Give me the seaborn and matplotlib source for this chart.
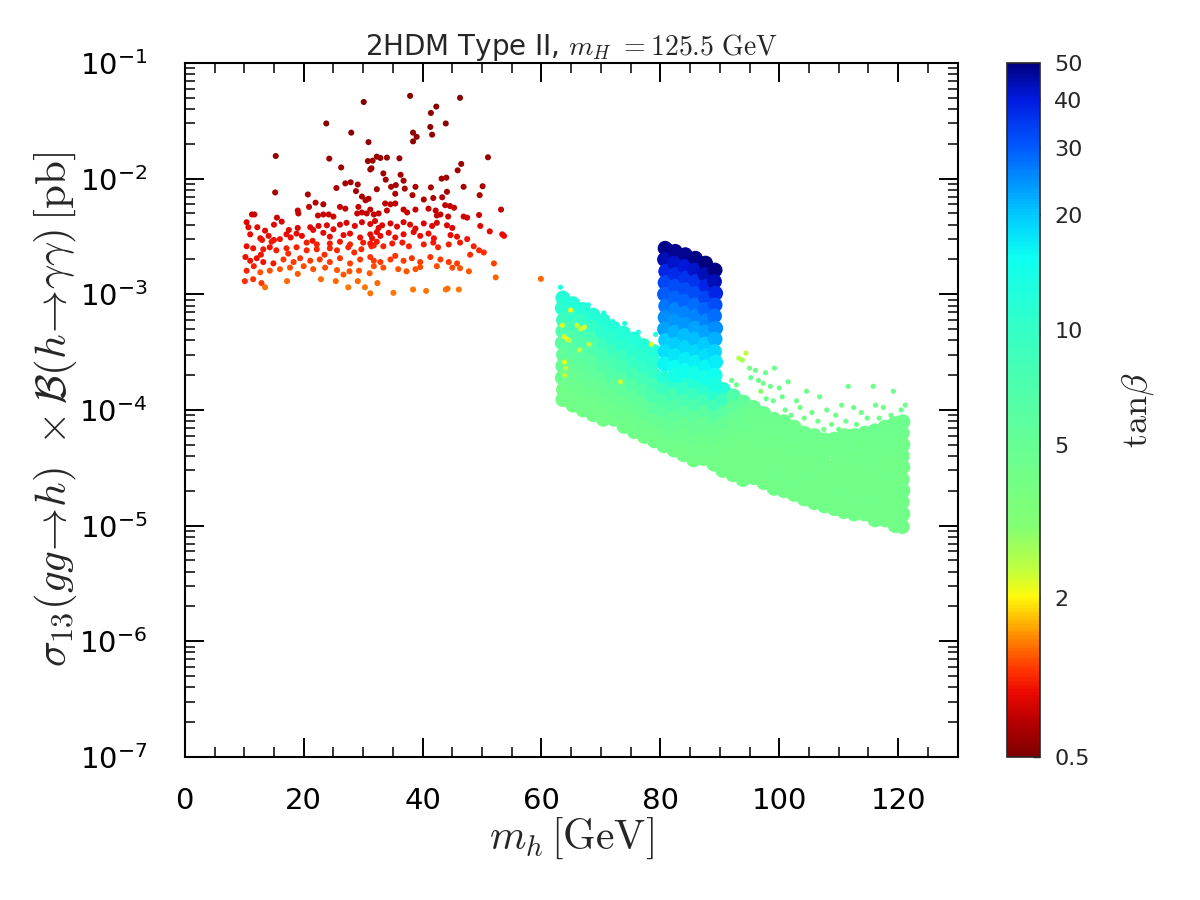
import numpy as np
import pandas as pd
import matplotlib
matplotlib.use('Agg')
import matplotlib.pyplot as plt
import matplotlib.colors as mcolors
import matplotlib.ticker as mticker
import seaborn as sns

# values: m_h [GeV], sigma x BR [pb], tan(beta)

# low-mass red cluster, grouped in rough horizontal rows (top to bottom)
red_mh = [
    30.1, 23.8, 28.0, 30.9, 37.9, 46.3, 42.3, 41.4, 43.9, 41.3,
    41.6, 38.4, 39.0, 38.4,
    15.3, 24.3, 31.6, 32.3, 31.4, 26.3, 51.0, 46.5, 45.9, 32.9,
    34.0, 36.1, 30.8, 31.2, 33.4, 36.3, 43.2, 44.0,
    25.5, 27.0, 27.9, 29.1, 28.8, 32.3, 15.2, 20.7, 29.8, 30.4,
    30.9, 22.0, 33.8, 36.8, 46.9, 50.1, 34.7, 35.5, 37.0, 38.8,
    44.1, 41.4, 35.4, 38.3, 41.8, 43.3, 49.6, 40.2, 23.3,
    20.9, 26.1, 27.0, 29.2, 19.0, 19.1, 22.4, 23.3, 24.2, 25.0,
    29.0, 29.8, 30.6, 11.3, 11.7, 15.5, 33.7, 34.6, 35.4, 43.8,
    44.6, 45.3, 31.2, 31.8, 32.6, 34.0, 36.8, 37.4, 38.8, 41.0,
    42.2, 53.2, 49.5, 46.9, 47.5, 43.0, 44.3, 42.4,
    16.3, 10.4, 15.0, 12.2, 10.7, 21.1, 21.6, 22.5, 23.9, 26.1,
    27.2, 28.6, 29.8, 31.2, 32.0, 32.6, 33.2, 34.6, 35.7, 36.8,
    37.9, 38.8, 40.2, 41.6, 42.4, 44.1, 45.0, 49.7, 17.5, 19.0,
    13.5, 25.0,
    17.1, 17.8, 18.8, 19.7, 11.0, 12.7, 14.1, 23.3, 24.4, 26.7,
    27.8, 29.5, 31.2, 32.3, 31.5, 32.9, 34.3, 35.4, 36.8, 38.5,
    39.6, 41.0, 41.9, 44.7, 45.8, 53.4, 53.7, 51.3, 15.0, 21.5,
    47.5,
    13.0, 14.6, 16.0, 20.5, 22.2, 24.4, 26.1, 27.8, 30.0, 31.8,
    10.4, 11.5, 13.2, 14.3, 15.4, 17.1, 18.8, 20.5, 22.2, 24.4,
    25.6, 27.5, 29.7, 31.4, 31.2, 32.3, 33.4, 34.9, 36.6, 37.7,
    40.2, 41.8, 42.6, 44.4, 46.3, 48.6, 49.5, 50.3,
    10.2, 11.0, 12.1, 13.2, 14.9, 16.6, 18.3, 19.4, 21.1, 22.7,
    24.4, 26.1, 27.8, 29.5, 31.8, 31.2, 32.9, 34.6, 35.4, 36.8,
    38.2, 39.6, 41.3, 43.0, 44.4, 45.8, 48.0, 52.0, 12.8, 17.4,
    23.5, 28.5,
    10.4, 12.7, 14.3, 16.0, 17.7, 20.0, 21.6, 23.6, 25.6, 27.7,
    29.3, 31.1, 31.8, 33.4, 35.9, 37.3, 38.8, 39.6, 42.4, 45.0,
    46.3, 47.8, 11.6, 19.0, 26.7,
    10.1, 11.5, 12.9, 17.2, 22.9, 25.4, 27.5, 29.1, 30.3, 32.4,
    35.1, 38.4, 40.6, 43.9, 44.2, 46.1, 52.3, 59.9, 13.5, 31.2,
]
red_sigma = [
    4.6e-2, 3.0e-2, 2.5e-2, 2.07e-2, 5.2e-2, 5.0e-2, 4.2e-2, 3.7e-2, 3.0e-2, 2.8e-2,
    2.4e-2, 2.5e-2, 2.3e-2, 2.1e-2,
    1.57e-2, 1.49e-2, 1.43e-2, 1.55e-2, 1.23e-2, 1.25e-2, 1.53e-2, 1.34e-2, 1.18e-2, 1.51e-2,
    1.52e-2, 1.5e-2, 1.42e-2, 1.2e-2, 1.11e-2, 1.08e-2, 1.0e-2, 1.02e-2,
    8.3e-3, 9.1e-3, 9.3e-3, 8.9e-3, 7.8e-3, 8.1e-3, 7.6e-3, 7.3e-3, 7.0e-3, 6.5e-3,
    6.7e-3, 6.2e-3, 9.8e-3, 9.6e-3, 8.5e-3, 8.6e-3, 8.5e-3, 8.8e-3, 8.2e-3, 8.5e-3,
    7.7e-3, 8.4e-3, 7.4e-3, 7.2e-3, 6.8e-3, 6.9e-3, 7.2e-3, 6.6e-3, 6.0e-3,
    5.7e-3, 5.7e-3, 5.5e-3, 5.7e-3, 5.3e-3, 5.0e-3, 4.8e-3, 4.9e-3, 4.9e-3, 4.7e-3,
    5.0e-3, 5.1e-3, 5.0e-3, 4.9e-3, 4.9e-3, 4.6e-3, 6.1e-3, 6.0e-3, 6.1e-3, 5.9e-3,
    5.8e-3, 5.6e-3, 5.4e-3, 4.9e-3, 5.0e-3, 5.3e-3, 5.4e-3, 5.1e-3, 5.4e-3, 5.5e-3,
    5.3e-3, 5.4e-3, 4.85e-3, 4.7e-3, 4.6e-3, 4.9e-3, 4.7e-3, 4.8e-3,
    4.25e-3, 4.2e-3, 4.0e-3, 3.8e-3, 3.8e-3, 3.8e-3, 3.6e-3, 3.9e-3, 3.95e-3, 4.0e-3,
    4.15e-3, 3.9e-3, 4.2e-3, 4.05e-3, 4.3e-3, 3.75e-3, 3.95e-3, 4.1e-3, 3.85e-3, 4.2e-3,
    4.0e-3, 3.7e-3, 4.1e-3, 3.9e-3, 4.15e-3, 3.95e-3, 3.75e-3, 3.9e-3, 3.6e-3, 3.75e-3,
    3.55e-3, 3.65e-3,
    3.3e-3, 3.1e-3, 3.35e-3, 3.2e-3, 3.3e-3, 3.05e-3, 3.2e-3, 3.4e-3, 3.15e-3, 3.25e-3,
    3.35e-3, 3.1e-3, 3.3e-3, 3.45e-3, 3.05e-3, 3.2e-3, 3.4e-3, 3.1e-3, 3.3e-3, 3.45e-3,
    3.2e-3, 3.35e-3, 3.05e-3, 3.25e-3, 3.15e-3, 3.3e-3, 3.2e-3, 3.5e-3, 2.95e-3, 2.9e-3,
    3.0e-3,
    2.95e-3, 2.85e-3, 3.0e-3, 2.8e-3, 2.7e-3, 2.75e-3, 2.85e-3, 2.7e-3, 2.8e-3, 2.65e-3,
    2.6e-3, 2.5e-3, 2.45e-3, 2.55e-3, 2.4e-3, 2.5e-3, 2.55e-3, 2.4e-3, 2.45e-3, 2.5e-3,
    2.4e-3, 2.55e-3, 2.45e-3, 2.6e-3, 2.75e-3, 2.85e-3, 2.6e-3, 2.75e-3, 2.8e-3, 2.6e-3,
    2.7e-3, 2.8e-3, 2.55e-3, 2.7e-3, 2.8e-3, 2.6e-3, 2.4e-3, 2.3e-3,
    2.1e-3, 1.95e-3, 2.05e-3, 1.9e-3, 1.85e-3, 2.0e-3, 1.9e-3, 2.05e-3, 1.95e-3, 2.0e-3,
    1.9e-3, 2.05e-3, 1.85e-3, 2.0e-3, 1.95e-3, 2.1e-3, 1.9e-3, 2.0e-3, 2.15e-3, 1.95e-3,
    2.05e-3, 1.9e-3, 2.1e-3, 2.0e-3, 1.9e-3, 1.85e-3, 2.2e-3, 1.85e-3, 2.2e-3, 2.25e-3,
    2.2e-3, 2.3e-3,
    1.6e-3, 1.55e-3, 1.6e-3, 1.65e-3, 1.7e-3, 1.75e-3, 1.65e-3, 1.7e-3, 1.62e-3, 1.58e-3,
    1.6e-3, 1.52e-3, 1.75e-3, 1.7e-3, 1.65e-3, 1.58e-3, 1.65e-3, 1.72e-3, 1.75e-3, 1.7e-3,
    1.68e-3, 1.58e-3, 1.75e-3, 1.5e-3, 1.48e-3,
    1.3e-3, 1.35e-3, 1.25e-3, 1.3e-3, 1.35e-3, 1.3e-3, 1.15e-3, 1.3e-3, 1.15e-3, 1.25e-3,
    1.03e-3, 1.1e-3, 1.07e-3, 1.1e-3, 1.12e-3, 1.1e-3, 1.4e-3, 1.36e-3, 1.15e-3, 1.02e-3,
]
red_tanb = [
    0.78, 0.80, 0.80, 0.82, 0.78, 0.78, 0.79, 0.80, 0.80, 0.81,
    0.82, 0.81, 0.82, 0.83,
    0.84, 0.85, 0.85, 0.84, 0.86, 0.86, 0.85, 0.86, 0.87, 0.85,
    0.85, 0.85, 0.86, 0.87, 0.87, 0.88, 0.88, 0.88,
    0.89, 0.88, 0.88, 0.89, 0.90, 0.90, 0.90, 0.91, 0.91, 0.92,
    0.92, 0.92, 0.88, 0.88, 0.89, 0.89, 0.89, 0.89, 0.90, 0.89,
    0.90, 0.89, 0.91, 0.91, 0.92, 0.92, 0.91, 0.92, 0.93,
    0.98, 0.99, 1.00, 0.99, 1.00, 1.01, 1.01, 1.00, 1.01, 1.02,
    1.00, 0.99, 1.00, 1.00, 1.01, 1.02, 0.97, 0.97, 0.97, 0.97,
    0.98, 0.98, 0.99, 1.01, 1.00, 0.99, 0.99, 1.00, 0.99, 0.99,
    0.99, 0.99, 1.01, 1.02, 1.02, 1.01, 1.02, 1.01,
    1.06, 1.07, 1.08, 1.09, 1.08, 1.08, 1.10, 1.07, 1.07, 1.07,
    1.06, 1.08, 1.06, 1.07, 1.05, 1.09, 1.07, 1.06, 1.08, 1.06,
    1.07, 1.09, 1.06, 1.08, 1.06, 1.07, 1.09, 1.08, 1.10, 1.09,
    1.10, 1.10,
    1.12, 1.14, 1.12, 1.13, 1.12, 1.15, 1.13, 1.11, 1.14, 1.13,
    1.12, 1.14, 1.12, 1.11, 1.15, 1.13, 1.11, 1.14, 1.12, 1.11,
    1.13, 1.12, 1.15, 1.13, 1.14, 1.12, 1.13, 1.11, 1.16, 1.17,
    1.16,
    1.17, 1.18, 1.16, 1.20, 1.21, 1.20, 1.19, 1.21, 1.20, 1.22,
    1.15, 1.17, 1.18, 1.17, 1.20, 1.22, 1.21, 1.24, 1.23, 1.22,
    1.24, 1.22, 1.23, 1.21, 1.19, 1.18, 1.21, 1.19, 1.18, 1.21,
    1.20, 1.19, 1.22, 1.20, 1.19, 1.21, 1.24, 1.26,
    1.14, 1.15, 1.15, 1.16, 1.18, 1.30, 1.31, 1.29, 1.31, 1.30,
    1.31, 1.29, 1.32, 1.30, 1.31, 1.28, 1.31, 1.30, 1.28, 1.31,
    1.29, 1.31, 1.28, 1.30, 1.31, 1.32, 1.26, 1.32, 1.16, 1.26,
    1.27, 1.26,
    1.22, 1.40, 1.39, 1.38, 1.37, 1.36, 1.38, 1.37, 1.39, 1.40,
    1.39, 1.41, 1.36, 1.37, 1.38, 1.40, 1.38, 1.37, 1.36, 1.37,
    1.38, 1.40, 1.22, 1.42, 1.42,
    1.25, 1.28, 1.30, 1.45, 1.45, 1.46, 1.50, 1.46, 1.50, 1.47,
    1.52, 1.50, 1.51, 1.50, 1.49, 1.50, 1.44, 1.45, 1.48, 1.52,
]

# dense high-mass band (green/cyan), column by column
band_mh = [
    63.6, 63.5, 63.7, 63.6, 63.5, 63.7, 63.6, 63.5, 63.7, 63.6,
    65.3, 65.2, 65.4, 65.3, 65.2, 65.4, 65.3, 65.2, 65.4, 65.3,
    67.0, 66.9, 67.1, 67.0, 66.9, 67.1, 67.0, 66.9, 67.1, 67.0,
    68.7, 68.6, 68.8, 68.7, 68.6, 68.8, 68.7, 68.6, 68.8, 68.7,
    70.4, 70.3, 70.5, 70.4, 70.3, 70.5, 70.4, 70.3, 70.5, 70.4,
    72.1, 72.0, 72.2, 72.1, 72.0, 72.2, 72.1, 72.0, 72.2,
    73.8, 73.7, 73.9, 73.8, 73.7, 73.9, 73.8, 73.7, 73.9,
    75.5, 75.4, 75.6, 75.5, 75.4, 75.6, 75.5, 75.4, 75.6,
    77.2, 77.1, 77.3, 77.2, 77.1, 77.3, 77.2, 77.1, 77.3,
    78.9, 78.8, 79.0, 78.9, 78.8, 79.0, 78.9, 78.8, 79.0,
    80.6, 80.5, 80.7, 80.6, 80.5, 80.7, 80.6,
    82.3, 82.2, 82.4, 82.3, 82.2, 82.4, 82.3,
    84.0, 83.9, 84.1, 84.0, 83.9, 84.1, 84.0, 83.9,
    85.7, 85.6, 85.8, 85.7, 85.6, 85.8, 85.7, 85.6,
    87.4, 87.3, 87.5, 87.4, 87.3, 87.5, 87.4, 87.3,
    89.1, 89.0, 89.2, 89.1, 89.0, 89.2, 89.1, 89.0,
    90.6, 90.5, 90.7, 90.6, 90.5, 90.7, 90.6, 90.5,
    92.3, 92.2, 92.4, 92.3, 92.2, 92.4, 92.3, 92.2,
    94.0, 93.9, 94.1, 94.0, 93.9, 94.1, 94.0, 93.9,
    95.7, 95.6, 95.8, 95.7, 95.6, 95.8, 95.7,
    97.4, 97.3, 97.5, 97.4, 97.3, 97.5, 97.4,
    99.1, 99.0, 99.2, 99.1, 99.0, 99.2, 99.1,
    100.8, 100.7, 100.9, 100.8, 100.7, 100.9, 100.8,
    102.5, 102.4, 102.6, 102.5, 102.4, 102.6, 102.5,
    104.2, 104.1, 104.3, 104.2, 104.1, 104.3, 104.2,
    105.9, 105.8, 106.0, 105.9, 105.8, 106.0, 105.9,
    107.6, 107.5, 107.7, 107.6, 107.5, 107.7, 107.6,
    109.3, 109.2, 109.4, 109.3, 109.2, 109.4, 109.3,
    111.0, 110.9, 111.1, 111.0, 110.9, 111.1, 111.0, 110.9,
    112.7, 112.6, 112.8, 112.7, 112.6, 112.8, 112.7, 112.6,
    114.4, 114.3, 114.5, 114.4, 114.3, 114.5, 114.4, 114.3,
    116.1, 116.0, 116.2, 116.1, 116.0, 116.2, 116.1, 116.0, 116.1,
    117.8, 117.7, 117.9, 117.8, 117.7, 117.9, 117.8, 117.7, 117.8,
    119.4, 119.3, 119.5, 119.4, 119.3, 119.5, 119.4, 119.3, 119.4, 119.5,
    120.8, 120.7, 120.8, 120.7, 120.8, 120.7, 120.8, 120.7, 120.8, 120.7,
]
band_sigma = [
    9.3e-4, 7.6e-4, 6.0e-4, 4.8e-4, 3.8e-4, 3.0e-4, 2.4e-4, 1.9e-4, 1.5e-4, 1.23e-4,
    8.3e-4, 6.6e-4, 5.2e-4, 4.2e-4, 3.3e-4, 2.6e-4, 2.1e-4, 1.66e-4, 1.32e-4, 1.1e-4,
    7.4e-4, 5.9e-4, 4.7e-4, 3.7e-4, 2.95e-4, 2.35e-4, 1.86e-4, 1.48e-4, 1.17e-4, 1.0e-4,
    6.6e-4, 5.2e-4, 4.2e-4, 3.3e-4, 2.6e-4, 2.1e-4, 1.66e-4, 1.32e-4, 1.07e-4, 9.1e-5,
    5.9e-4, 4.7e-4, 3.7e-4, 2.95e-4, 2.35e-4, 1.86e-4, 1.48e-4, 1.17e-4, 9.5e-5, 8.3e-5,
    5.1e-4, 4.1e-4, 3.2e-4, 2.6e-4, 2.0e-4, 1.62e-4, 1.29e-4, 1.02e-4, 8.3e-5,
    4.6e-4, 3.6e-4, 2.9e-4, 2.3e-4, 1.82e-4, 1.45e-4, 1.15e-4, 9.1e-5, 7.2e-5,
    4.1e-4, 3.2e-4, 2.6e-4, 2.0e-4, 1.62e-4, 1.29e-4, 1.02e-4, 8.1e-5, 6.5e-5,
    3.6e-4, 2.9e-4, 2.3e-4, 1.82e-4, 1.45e-4, 1.15e-4, 9.1e-5, 7.2e-5, 5.9e-5,
    3.2e-4, 2.6e-4, 2.0e-4, 1.62e-4, 1.29e-4, 1.02e-4, 8.1e-5, 6.5e-5, 5.4e-5,
    1.9e-4, 1.5e-4, 1.2e-4, 9.5e-5, 7.6e-5, 6.0e-5, 4.9e-5,
    1.7e-4, 1.35e-4, 1.07e-4, 8.5e-5, 6.8e-5, 5.4e-5, 4.5e-5,
    1.9e-4, 1.5e-4, 1.2e-4, 9.5e-5, 7.6e-5, 6.0e-5, 4.8e-5, 4.1e-5,
    1.7e-4, 1.35e-4, 1.07e-4, 8.5e-5, 6.8e-5, 5.4e-5, 4.3e-5, 3.7e-5,
    1.9e-4, 1.5e-4, 1.2e-4, 9.5e-5, 7.6e-5, 6.0e-5, 4.8e-5, 3.8e-5,
    1.7e-4, 1.35e-4, 1.07e-4, 8.5e-5, 6.8e-5, 5.4e-5, 4.3e-5, 3.4e-5,
    1.5e-4, 1.2e-4, 9.5e-5, 7.6e-5, 6.0e-5, 4.8e-5, 3.8e-5, 3.0e-5,
    1.32e-4, 1.05e-4, 8.3e-5, 6.6e-5, 5.2e-5, 4.2e-5, 3.3e-5, 2.75e-5,
    1.17e-4, 9.3e-5, 7.4e-5, 5.9e-5, 4.7e-5, 3.7e-5, 2.95e-5, 2.5e-5,
    1.05e-4, 8.3e-5, 6.6e-5, 5.2e-5, 4.2e-5, 3.3e-5, 2.6e-5,
    9.3e-5, 7.4e-5, 5.9e-5, 4.7e-5, 3.7e-5, 2.95e-5, 2.35e-5,
    8.3e-5, 6.6e-5, 5.2e-5, 4.2e-5, 3.3e-5, 2.6e-5, 2.1e-5,
    7.9e-5, 6.3e-5, 5.0e-5, 4.0e-5, 3.2e-5, 2.5e-5, 2.0e-5,
    7.1e-5, 5.6e-5, 4.5e-5, 3.5e-5, 2.8e-5, 2.2e-5, 1.86e-5,
    6.3e-5, 5.0e-5, 4.0e-5, 3.2e-5, 2.5e-5, 2.0e-5, 1.7e-5,
    6.0e-5, 4.8e-5, 3.8e-5, 3.0e-5, 2.4e-5, 1.9e-5, 1.58e-5,
    5.5e-5, 4.4e-5, 3.5e-5, 2.75e-5, 2.2e-5, 1.74e-5, 1.48e-5,
    5.6e-5, 4.5e-5, 3.5e-5, 2.8e-5, 2.2e-5, 1.8e-5, 1.4e-5,
    6.0e-5, 4.8e-5, 3.8e-5, 3.0e-5, 2.4e-5, 1.9e-5, 1.5e-5, 1.32e-5,
    6.0e-5, 4.8e-5, 3.8e-5, 3.0e-5, 2.4e-5, 1.9e-5, 1.5e-5, 1.26e-5,
    6.3e-5, 5.0e-5, 4.0e-5, 3.2e-5, 2.5e-5, 2.0e-5, 1.6e-5, 1.26e-5,
    6.6e-5, 5.2e-5, 4.2e-5, 3.3e-5, 2.6e-5, 2.1e-5, 1.66e-5, 1.32e-5, 1.12e-5,
    7.1e-5, 5.6e-5, 4.5e-5, 3.5e-5, 2.8e-5, 2.2e-5, 1.8e-5, 1.4e-5, 1.12e-5,
    7.6e-5, 6.0e-5, 4.8e-5, 3.8e-5, 3.0e-5, 2.4e-5, 1.9e-5, 1.5e-5, 1.2e-5, 1.0e-5,
    7.9e-5, 6.3e-5, 5.0e-5, 4.0e-5, 3.2e-5, 2.5e-5, 2.0e-5, 1.6e-5, 1.26e-5, 9.8e-6,
]
band_tanb = [
    12, 11, 9, 7, 6, 5.5, 5, 4.6, 4.3, 4.2,
    12, 10, 8.5, 7, 6, 5.5, 5, 4.6, 4.3, 4.2,
    12, 10, 8, 7, 6, 5.5, 5, 4.6, 4.3, 4.2,
    12, 10, 8, 7, 6, 5.5, 5, 4.6, 4.3, 4.2,
    12, 11, 9, 7.5, 6.5, 5.5, 5, 4.6, 4.3, 4.2,
    12, 11, 9, 7.5, 6.5, 5.5, 5, 4.6, 4.3,
    12, 11, 9, 8, 6.5, 5.5, 5, 4.6, 4.3,
    12, 11, 9.5, 8, 6.5, 5.5, 5, 4.6, 4.3,
    12, 11, 10, 8, 6.5, 5.5, 5, 4.6, 4.3,
    12, 11, 10, 8, 7, 6, 5, 4.6, 4.3,
    12, 9, 7, 6, 5, 4.6, 4.3,
    11, 8, 6.5, 5.5, 5, 4.6, 4.3,
    12, 10, 7.5, 6, 5, 4.6, 4.3, 4.2,
    12, 9, 7, 5.5, 5, 4.6, 4.3, 4.2,
    13, 11, 8, 6, 5, 4.6, 4.3, 4.2,
    13, 11, 8, 6, 5, 4.6, 4.3, 4.2,
    12, 9, 6, 5, 4.6, 4.3, 4.2, 4.2,
    7, 5.5, 4.8, 4.5, 4.3, 4.2, 4.2, 4.2,
    5.5, 4.8, 4.5, 4.3, 4.2, 4.2, 4.2, 4.2,
    4.8, 4.5, 4.4, 4.3, 4.2, 4.2, 4.2,
    4.6, 4.4, 4.3, 4.3, 4.2, 4.2, 4.2,
    4.5, 4.4, 4.3, 4.2, 4.2, 4.3, 4.2,
    4.5, 4.4, 4.3, 4.2, 4.3, 4.2, 4.2,
    4.4, 4.4, 4.3, 4.2, 4.2, 4.3, 4.2,
    4.4, 4.3, 4.3, 4.2, 4.3, 4.2, 4.2,
    4.4, 4.3, 4.2, 4.3, 4.2, 4.2, 4.2,
    4.4, 4.3, 4.3, 4.2, 4.2, 4.2, 4.3,
    4.4, 4.3, 4.2, 4.2, 4.3, 4.2, 4.2,
    4.4, 4.3, 4.3, 4.2, 4.2, 4.3, 4.2, 4.2,
    4.4, 4.4, 4.3, 4.2, 4.2, 4.2, 4.3, 4.2,
    4.4, 4.3, 4.3, 4.2, 4.3, 4.2, 4.2, 4.2,
    4.5, 4.4, 4.3, 4.3, 4.2, 4.2, 4.3, 4.2, 4.2,
    4.5, 4.4, 4.3, 4.2, 4.3, 4.2, 4.2, 4.2, 4.2,
    4.5, 4.4, 4.4, 4.3, 4.2, 4.3, 4.2, 4.2, 4.2, 4.2,
    4.5, 4.4, 4.3, 4.3, 4.2, 4.2, 4.3, 4.2, 4.2, 4.2,
]

# scattered points around the band edges and on top of the blue block
sparse_mh = [
    63.2, 64.9, 67.9, 70.5, 72.0, 72.8, 74.0, 74.5, 76.3, 79.2,
    78.5, 64.9, 63.5, 66.0, 66.6, 67.2, 63.8, 64.3, 64.7, 68.0, 66.4, 63.9, 63.9, 73.3, 64.1,
    93.2, 94.4, 93.8, 95.0, 96.0, 97.7, 99.2, 95.2, 96.5, 97.3, 98.5, 100.0, 101.5, 92.0, 92.8, 96.9,
    102.9, 104.6, 106.8, 111.6, 115.8, 119.2, 103.5, 105.5, 108.0, 109.5, 110.5, 112.5, 113.8,
    116.2, 117.5, 118.8, 120.5, 121.2,
    101.0, 102.0, 104.2, 106.5, 108.8, 111.2, 113.0, 114.8, 116.8, 118.5, 120.0, 99.0, 100.5,
    97.8, 107.5, 110.0, 112.0,
    80.4, 81.6, 83.0, 84.7, 86.5, 88.5, 89.8,
]
sparse_sigma = [
    1.15e-3, 8.8e-4, 8.1e-4, 6.9e-4, 5.8e-4, 5.4e-4, 5.6e-4, 4.9e-4, 4.7e-4, 4.5e-4,
    3.7e-4, 7.3e-4, 5.4e-4, 5.4e-4, 5.0e-4, 5.2e-4, 4.3e-4, 4.1e-4, 4.0e-4, 3.7e-4, 3.3e-4,
    2.6e-4, 2.0e-4, 1.75e-4, 2.3e-4,
    2.8e-4, 3.1e-4, 2.7e-4, 2.3e-4, 2.2e-4, 2.1e-4, 2.3e-4, 1.9e-4, 1.8e-4, 1.7e-4, 1.6e-4,
    1.55e-4, 1.75e-4, 1.8e-4, 1.65e-4, 1.45e-4,
    1.2e-4, 1.45e-4, 1.3e-4, 1.6e-4, 1.6e-4, 1.45e-4, 1.05e-4, 9.5e-5, 1.0e-4, 9.0e-5, 1.1e-4,
    1.05e-4, 9.5e-5, 1.1e-4, 1.05e-4, 9.0e-5, 1.0e-4, 1.1e-4,
    1.0e-4, 9.0e-5, 8.5e-5, 8.0e-5, 7.5e-5, 8.0e-5, 7.5e-5, 8.5e-5, 8.5e-5, 7.5e-5, 8.5e-5,
    1.2e-4, 1.3e-4, 1.25e-4, 6.8e-5, 6.8e-5, 6.5e-5,
    2.7e-3, 2.6e-3, 2.45e-3, 2.3e-3, 2.1e-3, 1.75e-3, 1.55e-3,
]
sparse_tanb = [
    13, 13, 12.5, 13, 12.5, 13, 12.5, 12, 12.5, 13,
    2.2, 2.1, 2.2, 2.3, 2.4, 2.2, 2.3, 2.1, 2.5, 2.4, 2.3, 2.2, 2.4, 2.3, 2.5,
    2.5, 2.4, 2.7, 4.0, 4.5, 4.5, 4.4, 5.0, 4.5, 4.0, 4.5, 4.4, 4.5, 5.0, 4.5, 3.0,
    4.4, 4.5, 4.3, 4.4, 4.5, 4.4, 4.3, 4.4, 4.5, 4.3, 4.4, 4.5, 4.3, 4.4, 4.3, 4.4, 4.5, 4.4,
    4.3, 4.4, 4.3, 4.4, 4.3, 4.4, 4.3, 4.4, 4.3, 4.4, 4.3, 4.6, 4.5, 4.5, 4.3, 4.3, 4.3,
    50, 50, 50, 50, 50, 50, 50,
]

# blue block, 80 < m_h < 90
block_mh = [
    80.8, 80.7, 80.9, 80.8, 80.7, 80.9, 80.8, 80.7, 80.9, 80.8, 80.7,
    82.5, 82.4, 82.6, 82.5, 82.4, 82.6, 82.5, 82.4, 82.6, 82.5, 82.4, 82.6,
    84.2, 84.1, 84.3, 84.2, 84.1, 84.3, 84.2, 84.1, 84.3, 84.2, 84.1,
    85.9, 85.8, 86.0, 85.9, 85.8, 86.0, 85.9, 85.8, 86.0, 85.9, 85.8,
    87.6, 87.5, 87.7, 87.6, 87.5, 87.7, 87.6, 87.5, 87.7, 87.6, 87.5,
    89.2, 89.1, 89.3, 89.2, 89.1, 89.3, 89.2, 89.1, 89.3, 89.2, 89.1,
]
block_sigma = [
    2.5e-3, 2.0e-3, 1.58e-3, 1.26e-3, 1.0e-3, 7.9e-4, 6.3e-4, 5.0e-4, 4.0e-4, 3.2e-4, 2.5e-4,
    2.35e-3, 1.86e-3, 1.48e-3, 1.17e-3, 9.3e-4, 7.4e-4, 5.9e-4, 4.7e-4, 3.7e-4, 2.95e-4, 2.35e-4, 2.0e-4,
    2.2e-3, 1.74e-3, 1.38e-3, 1.1e-3, 8.7e-4, 6.9e-4, 5.5e-4, 4.4e-4, 3.5e-4, 2.75e-4, 2.2e-4,
    2.05e-3, 1.62e-3, 1.29e-3, 1.02e-3, 8.1e-4, 6.5e-4, 5.1e-4, 4.1e-4, 3.2e-4, 2.6e-4, 2.1e-4,
    1.86e-3, 1.48e-3, 1.17e-3, 9.3e-4, 7.4e-4, 5.9e-4, 4.7e-4, 3.7e-4, 2.95e-4, 2.35e-4, 1.9e-4,
    1.62e-3, 1.29e-3, 1.02e-3, 8.1e-4, 6.5e-4, 5.1e-4, 4.1e-4, 3.2e-4, 2.6e-4, 2.0e-4, 1.66e-4,
]
block_tanb = [
    49, 44, 38, 33, 30, 27, 25, 23, 20, 18, 16,
    48, 42, 37, 32, 29, 26, 24, 22, 19.5, 17.5, 15.5, 14,
    48, 41, 36, 32, 29, 26, 24, 21, 19, 17, 15,
    49, 42, 36, 32, 28, 26, 23, 21, 18.5, 16.5, 14.5,
    50, 44, 38, 33, 29, 26, 23, 20, 18, 16, 14,
    50, 44, 38, 32, 28, 25, 22, 19, 17, 15, 13.5,
]

cbar_ticks = [0.766, 2, 5, 10, 20, 30, 40, 50]
cbar_labels = ['0.5', '2', '5', '10', '20', '30', '40', '50']


def frame(mh, sigma, tanb):
    return pd.DataFrame({'mh': mh, 'sigma': sigma, 'tanb': tanb})


red_df = frame(red_mh, red_sigma, red_tanb)
band_df = frame(band_mh, band_sigma, band_tanb)
sparse_df = frame(sparse_mh, sparse_sigma, sparse_tanb)
block_df = frame(block_mh, block_sigma, block_tanb)

# colour scale as seen on the colour bar
cmap = mcolors.LinearSegmentedColormap.from_list('tanb', [
    (0.00, (0.50, 0.00, 0.00)),
    (0.05, (0.72, 0.00, 0.00)),
    (0.09, (0.92, 0.03, 0.00)),
    (0.12, (1.00, 0.18, 0.00)),
    (0.155, (1.00, 0.42, 0.00)),
    (0.19, (1.00, 0.68, 0.00)),
    (0.23, (1.00, 0.98, 0.05)),
    (0.27, (0.75, 1.00, 0.25)),
    (0.33, (0.52, 1.00, 0.45)),
    (0.45, (0.40, 1.00, 0.58)),
    (0.62, (0.20, 1.00, 0.78)),
    (0.72, (0.05, 1.00, 0.95)),
    (0.78, (0.00, 0.80, 1.00)),
    (0.88, (0.00, 0.35, 1.00)),
    (0.95, (0.00, 0.10, 0.88)),
    (1.00, (0.00, 0.00, 0.50)),
])
norm = mcolors.LogNorm(vmin=0.766, vmax=50)

sns.set_style('ticks')
plt.rcParams['font.family'] = ['DejaVu Sans']
plt.rcParams['mathtext.fontset'] = 'cm'

fig = plt.figure(figsize=(12, 9), dpi=100)
ax = fig.add_axes([0.154, 0.159, 0.644, 0.771])
cax = fig.add_axes([0.839, 0.159, 0.028, 0.771])

for df, size in [(band_df, 115), (sparse_df, 14), (block_df, 115), (red_df, 19)]:
    sns.scatterplot(data=df, x='mh', y='sigma', hue='tanb', palette=cmap,
                    hue_norm=norm, s=size, linewidth=0, legend=False, ax=ax)

ax.set_yscale('log')
ax.set_xlim(0, 130)
ax.set_ylim(1e-7, 1e-1)

ax.xaxis.set_major_locator(mticker.MultipleLocator(20))
ax.xaxis.set_minor_locator(mticker.MultipleLocator(5))
ax.yaxis.set_major_locator(mticker.LogLocator(base=10, numticks=12))
ax.yaxis.set_minor_locator(mticker.LogLocator(base=10, subs=np.arange(2, 10), numticks=12))
ax.yaxis.set_minor_formatter(mticker.NullFormatter())

ax.tick_params(which='both', direction='in', top=True, right=True, colors='black')
ax.tick_params(which='major', length=14, width=1.4, labelsize=21)
ax.tick_params(axis='x', which='major', pad=22)
ax.tick_params(axis='y', which='major', pad=27)
ax.tick_params(which='minor', length=7, width=1.1)
for sp in ax.spines.values():
    sp.set_linewidth(1.5)
    sp.set_color('black')

ax.set_xlabel(r'$m_h\,[\mathrm{GeV}]$', fontsize=30, labelpad=0)
ax.set_ylabel(r'$\sigma_{13}(gg\!\rightarrow\! h)\ \times\mathcal{B}(h\!\rightarrow\!\gamma\gamma)\,[\mathrm{pb}]$',
              fontsize=31, labelpad=0)
ax.set_title(r'2HDM Type II, $m_H\ {=}125.5\ \mathrm{GeV}$', fontsize=20, pad=5)

sm = plt.cm.ScalarMappable(norm=norm, cmap=cmap)
cb = fig.colorbar(sm, cax=cax)
cb.set_ticks(cbar_ticks)
cb.set_ticklabels(cbar_labels)
cb.ax.minorticks_off()
cb.ax.tick_params(direction='in', length=5, width=1, labelsize=16, pad=10)
cb.outline.set_linewidth(1.2)
cb.set_label(r'$\mathrm{tan}\beta$', fontsize=26, labelpad=22)

fig.savefig('out.png', dpi=100)
